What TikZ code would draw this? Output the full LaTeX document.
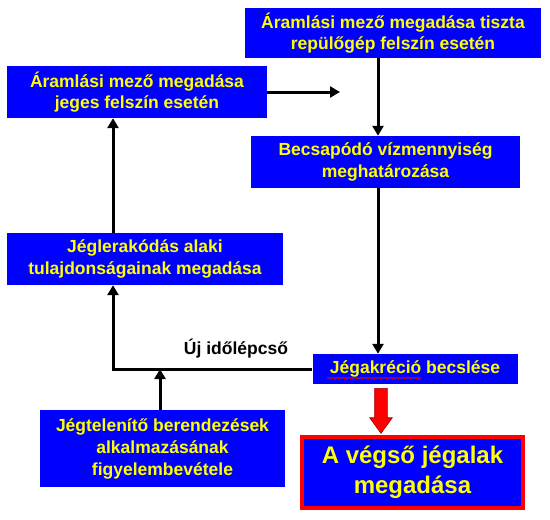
\documentclass[tikz,border=0pt]{standalone}
\usepackage{fontspec}
\setmainfont{Liberation Sans}
\usetikzlibrary{shapes.arrows, arrows.meta, decorations.pathmorphing}
\definecolor{boxblue}{RGB}{0,0,255}
\definecolor{boxyellow}{RGB}{255,255,0}
\definecolor{arrowred}{RGB}{255,0,0}
\tikzset{stepbox/.style={fill=boxblue, text=boxyellow, align=center, inner sep=0pt,
            font=\bfseries\fontsize{17.5}{21.5}\selectfont},
         flow/.style={line width=3pt, -{Triangle[length=10pt,width=11pt]}},
         bigarrow/.style={single arrow, fill=arrowred, draw=arrowred!60!black, line width=0.6pt,
            rotate=-90, minimum height=45pt, inner xsep=0pt, inner ysep=6pt,
            single arrow head extend=5pt, single arrow tip angle=72},
        }

\begin{document}
\begin{tikzpicture}[x=1pt,y=-1pt]
        \useasboundingbox (0,0) rectangle (550,520);

        \node[stepbox, minimum width=296pt, minimum height=50pt](tiszta)at(393,33)
            {Áramlási mező megadása tiszta\\repülőgép felszín esetén};
        \node[stepbox, minimum width=260pt, minimum height=52pt](jeges)at(137,92)
            {Áramlási mező megadása\\jeges felszín esetén};
        \node[stepbox, minimum width=269pt, minimum height=52pt](viz)at(385.5,162)
            {Becsapódó vízmennyiség\\meghatározása};
        \node[stepbox, minimum width=205pt, minimum height=30pt](akrecio)at(415,369)
            {Jégakréció becslése};
        \node[stepbox, minimum width=276pt, minimum height=52pt](alak)at(145,259)
            {Jéglerakódás alaki\\tulajdonságainak megadása};
        \node[stepbox, minimum width=245pt, minimum height=77pt, font=\bfseries\fontsize{17.5}{22}\selectfont](jegtel)at(162.5,448.5)
            {Jégtelenítő berendezések\\alkalmazásának\\figyelembevétele};
        \node[stepbox, draw=arrowred, line width=4pt, minimum width=221pt, minimum height=71pt,
              font=\bfseries\fontsize{24}{30}\selectfont](vegso)at(412.5,472.5)
            {A végső jégalak\\megadása};

        \node[font=\bfseries\fontsize{17.5}{21}\selectfont](uj)at(236,349){Új időlépcső};

        \coordinate(mid)at(378,0);
        \coordinate(left)at(113,0);
        \coordinate(jx)at(160,0);
        \coordinate(jend)at(340,92);

        \draw[flow](jeges.east)--(jend);
        \draw[flow](tiszta.south -| mid)--(viz.north -| mid);
        \draw[flow](viz.south -| mid)--(akrecio.north -| mid);
        \draw[flow](akrecio.west)-|(alak.south -| left);
        \draw[flow](alak.north -| left)--(jeges.south -| left);
        \draw[flow](jegtel.north -| jx)--(jx |- akrecio.west);

        \node[bigarrow, anchor=west](down)at(381,388){};

        % spell check underline
        \coordinate(wavea)at(327,378);
        \coordinate(waveb)at(421,378);
        \draw[arrowred, line width=0.6pt, decorate, decoration={snake, amplitude=0.8pt, segment length=3pt}](wavea)--(waveb);
    \end{tikzpicture}
\end{document}
